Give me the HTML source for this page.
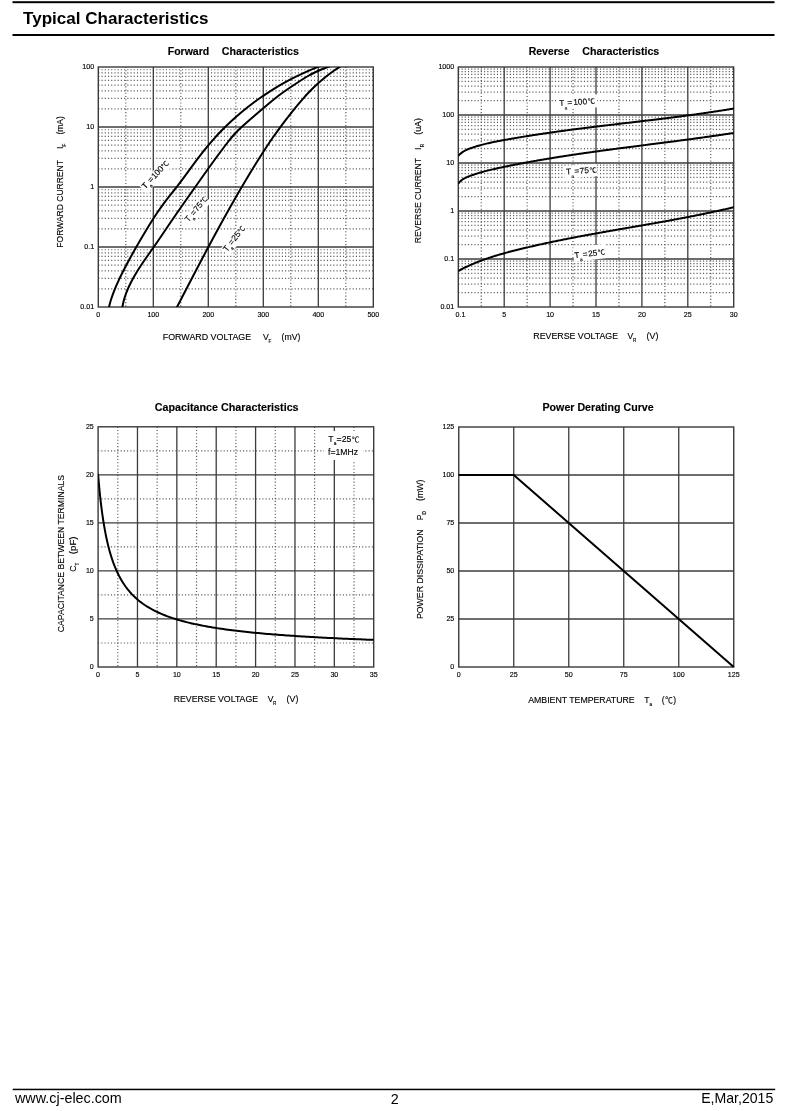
<!DOCTYPE html>
<html><head><meta charset="utf-8"><title>Typical Characteristics</title>
<style>html,body{margin:0;padding:0;background:#fff;}body{width:800px;height:1111px;overflow:hidden;}svg{display:block;filter:blur(0.3px);}</style>
</head><body>
<svg width="800" height="1111" viewBox="0 0 800 1111" font-family="'Liberation Sans', 'Noto Sans CJK SC', sans-serif" fill="#000">
<defs>
<clipPath id="c1"><rect x="98.3" y="67" width="275" height="240"/></clipPath>
<clipPath id="c2"><rect x="458.3" y="67" width="275.4" height="240"/></clipPath>
<clipPath id="c3"><rect x="98.1" y="426.8" width="275.6" height="240.2"/></clipPath>
<style>.ch text{stroke:#000;stroke-width:0.14px;}</style>
</defs>
<rect width="800" height="1111" fill="#fff"/>
<rect x="12.5" y="1.2" width="762" height="2" fill="#000"/>
<rect x="12.5" y="34" width="762" height="2" fill="#000"/>
<text x="23.00" y="24.10" font-size="17" font-weight="bold" textLength="185.40" lengthAdjust="spacingAndGlyphs">Typical Characteristics</text>
<rect x="12.7" y="1088.7" width="762.5" height="1.5" fill="#000"/>
<text x="15.00" y="1103.00" font-size="14.35">www.cj-elec.com</text>
<text x="394.70" y="1103.50" font-size="14.3" text-anchor="middle">2</text>
<text x="773.30" y="1103.00" font-size="14.1" text-anchor="end">E,Mar,2015</text>
<g class="ch">
<line x1="125.80" y1="67.00" x2="125.80" y2="307.00" stroke="#5a5a5a" stroke-width="1.2" stroke-dasharray="1.1 2.12"/>
<line x1="180.80" y1="67.00" x2="180.80" y2="307.00" stroke="#5a5a5a" stroke-width="1.2" stroke-dasharray="1.1 2.12"/>
<line x1="235.80" y1="67.00" x2="235.80" y2="307.00" stroke="#5a5a5a" stroke-width="1.2" stroke-dasharray="1.1 2.12"/>
<line x1="290.80" y1="67.00" x2="290.80" y2="307.00" stroke="#5a5a5a" stroke-width="1.2" stroke-dasharray="1.1 2.12"/>
<line x1="345.80" y1="67.00" x2="345.80" y2="307.00" stroke="#5a5a5a" stroke-width="1.2" stroke-dasharray="1.1 2.12"/>
<line x1="98.30" y1="288.94" x2="373.30" y2="288.94" stroke="#5a5a5a" stroke-width="1.2" stroke-dasharray="1.1 2.12"/>
<line x1="98.30" y1="278.37" x2="373.30" y2="278.37" stroke="#5a5a5a" stroke-width="1.2" stroke-dasharray="1.1 2.12"/>
<line x1="98.30" y1="270.88" x2="373.30" y2="270.88" stroke="#5a5a5a" stroke-width="1.2" stroke-dasharray="1.1 2.12"/>
<line x1="98.30" y1="265.06" x2="373.30" y2="265.06" stroke="#5a5a5a" stroke-width="1.2" stroke-dasharray="1.1 2.12"/>
<line x1="98.30" y1="260.31" x2="373.30" y2="260.31" stroke="#5a5a5a" stroke-width="1.2" stroke-dasharray="1.1 2.12"/>
<line x1="98.30" y1="256.29" x2="373.30" y2="256.29" stroke="#5a5a5a" stroke-width="1.2" stroke-dasharray="1.1 2.12"/>
<line x1="98.30" y1="252.81" x2="373.30" y2="252.81" stroke="#5a5a5a" stroke-width="1.2" stroke-dasharray="1.1 2.12"/>
<line x1="98.30" y1="249.75" x2="373.30" y2="249.75" stroke="#5a5a5a" stroke-width="1.2" stroke-dasharray="1.1 2.12"/>
<line x1="98.30" y1="228.94" x2="373.30" y2="228.94" stroke="#5a5a5a" stroke-width="1.2" stroke-dasharray="1.1 2.12"/>
<line x1="98.30" y1="218.37" x2="373.30" y2="218.37" stroke="#5a5a5a" stroke-width="1.2" stroke-dasharray="1.1 2.12"/>
<line x1="98.30" y1="210.88" x2="373.30" y2="210.88" stroke="#5a5a5a" stroke-width="1.2" stroke-dasharray="1.1 2.12"/>
<line x1="98.30" y1="205.06" x2="373.30" y2="205.06" stroke="#5a5a5a" stroke-width="1.2" stroke-dasharray="1.1 2.12"/>
<line x1="98.30" y1="200.31" x2="373.30" y2="200.31" stroke="#5a5a5a" stroke-width="1.2" stroke-dasharray="1.1 2.12"/>
<line x1="98.30" y1="196.29" x2="373.30" y2="196.29" stroke="#5a5a5a" stroke-width="1.2" stroke-dasharray="1.1 2.12"/>
<line x1="98.30" y1="192.81" x2="373.30" y2="192.81" stroke="#5a5a5a" stroke-width="1.2" stroke-dasharray="1.1 2.12"/>
<line x1="98.30" y1="189.75" x2="373.30" y2="189.75" stroke="#5a5a5a" stroke-width="1.2" stroke-dasharray="1.1 2.12"/>
<line x1="98.30" y1="168.94" x2="373.30" y2="168.94" stroke="#5a5a5a" stroke-width="1.2" stroke-dasharray="1.1 2.12"/>
<line x1="98.30" y1="158.37" x2="373.30" y2="158.37" stroke="#5a5a5a" stroke-width="1.2" stroke-dasharray="1.1 2.12"/>
<line x1="98.30" y1="150.88" x2="373.30" y2="150.88" stroke="#5a5a5a" stroke-width="1.2" stroke-dasharray="1.1 2.12"/>
<line x1="98.30" y1="145.06" x2="373.30" y2="145.06" stroke="#5a5a5a" stroke-width="1.2" stroke-dasharray="1.1 2.12"/>
<line x1="98.30" y1="140.31" x2="373.30" y2="140.31" stroke="#5a5a5a" stroke-width="1.2" stroke-dasharray="1.1 2.12"/>
<line x1="98.30" y1="136.29" x2="373.30" y2="136.29" stroke="#5a5a5a" stroke-width="1.2" stroke-dasharray="1.1 2.12"/>
<line x1="98.30" y1="132.81" x2="373.30" y2="132.81" stroke="#5a5a5a" stroke-width="1.2" stroke-dasharray="1.1 2.12"/>
<line x1="98.30" y1="129.75" x2="373.30" y2="129.75" stroke="#5a5a5a" stroke-width="1.2" stroke-dasharray="1.1 2.12"/>
<line x1="98.30" y1="108.94" x2="373.30" y2="108.94" stroke="#5a5a5a" stroke-width="1.2" stroke-dasharray="1.1 2.12"/>
<line x1="98.30" y1="98.37" x2="373.30" y2="98.37" stroke="#5a5a5a" stroke-width="1.2" stroke-dasharray="1.1 2.12"/>
<line x1="98.30" y1="90.88" x2="373.30" y2="90.88" stroke="#5a5a5a" stroke-width="1.2" stroke-dasharray="1.1 2.12"/>
<line x1="98.30" y1="85.06" x2="373.30" y2="85.06" stroke="#5a5a5a" stroke-width="1.2" stroke-dasharray="1.1 2.12"/>
<line x1="98.30" y1="80.31" x2="373.30" y2="80.31" stroke="#5a5a5a" stroke-width="1.2" stroke-dasharray="1.1 2.12"/>
<line x1="98.30" y1="76.29" x2="373.30" y2="76.29" stroke="#5a5a5a" stroke-width="1.2" stroke-dasharray="1.1 2.12"/>
<line x1="98.30" y1="72.81" x2="373.30" y2="72.81" stroke="#5a5a5a" stroke-width="1.2" stroke-dasharray="1.1 2.12"/>
<line x1="98.30" y1="69.75" x2="373.30" y2="69.75" stroke="#5a5a5a" stroke-width="1.2" stroke-dasharray="1.1 2.12"/>
<line x1="153.30" y1="67.00" x2="153.30" y2="307.00" stroke="#3c3c3c" stroke-width="1.3"/>
<line x1="208.30" y1="67.00" x2="208.30" y2="307.00" stroke="#3c3c3c" stroke-width="1.3"/>
<line x1="263.30" y1="67.00" x2="263.30" y2="307.00" stroke="#3c3c3c" stroke-width="1.3"/>
<line x1="318.30" y1="67.00" x2="318.30" y2="307.00" stroke="#3c3c3c" stroke-width="1.3"/>
<line x1="98.30" y1="247.00" x2="373.30" y2="247.00" stroke="#3c3c3c" stroke-width="1.3"/>
<line x1="98.30" y1="187.00" x2="373.30" y2="187.00" stroke="#3c3c3c" stroke-width="1.3"/>
<line x1="98.30" y1="127.00" x2="373.30" y2="127.00" stroke="#3c3c3c" stroke-width="1.3"/>
<rect x="98.3" y="67.0" width="275.0" height="240.0" fill="none" stroke="#3a3a3a" stroke-width="1.4"/>
<rect x="143.80" y="182.40" width="36.50" height="11.00" fill="#fff" transform="rotate(-47 145.30 189.40)"/>
<rect x="187.10" y="215.60" width="32.00" height="11.00" fill="#fff" transform="rotate(-50 188.60 222.60)"/>
<rect x="225.40" y="245.20" width="32.00" height="11.00" fill="#fff" transform="rotate(-52 226.90 252.20)"/>
<path d="M320.42,65.80 L316.71,67.30 L313.10,68.80 L309.58,70.30 L306.16,71.80 L302.84,73.30 L299.62,74.80 L296.49,76.30 L293.46,77.80 L290.53,79.30 L287.69,80.80 L284.95,82.30 L282.28,83.80 L279.70,85.30 L277.19,86.80 L274.74,88.30 L272.34,89.80 L270.00,91.30 L267.71,92.80 L265.45,94.30 L263.24,95.80 L261.07,97.30 L258.94,98.80 L256.85,100.30 L254.80,101.80 L252.78,103.30 L250.81,104.80 L248.86,106.30 L246.96,107.80 L245.08,109.30 L243.24,110.80 L241.43,112.30 L239.65,113.80 L237.91,115.30 L236.19,116.80 L234.50,118.30 L232.83,119.80 L231.20,121.30 L229.59,122.80 L228.01,124.30 L226.45,125.80 L224.92,127.30 L223.41,128.80 L221.92,130.30 L220.46,131.80 L219.02,133.30 L217.61,134.80 L216.21,136.30 L214.84,137.80 L213.49,139.30 L212.16,140.80 L210.84,142.30 L209.55,143.80 L208.28,145.30 L207.02,146.80 L205.78,148.30 L204.56,149.80 L203.36,151.30 L202.17,152.80 L201.00,154.30 L199.84,155.80 L198.69,157.30 L197.56,158.80 L196.43,160.30 L195.31,161.80 L194.20,163.30 L193.09,164.80 L191.99,166.30 L190.89,167.80 L189.80,169.30 L188.70,170.80 L187.61,172.30 L186.51,173.80 L185.41,175.30 L184.31,176.80 L183.20,178.30 L182.08,179.80 L180.96,181.30 L179.83,182.80 L178.68,184.30 L177.53,185.80 L176.36,187.30 L175.18,188.80 L173.99,190.30 L172.79,191.80 L171.59,193.30 L170.39,194.80 L169.21,196.30 L168.03,197.80 L166.86,199.30 L165.71,200.80 L164.59,202.30 L163.48,203.80 L162.39,205.30 L161.32,206.80 L160.26,208.30 L159.22,209.80 L158.20,211.30 L157.19,212.80 L156.19,214.30 L155.20,215.80 L154.23,217.30 L153.27,218.80 L152.32,220.30 L151.37,221.80 L150.44,223.30 L149.51,224.80 L148.59,226.30 L147.68,227.80 L146.76,229.30 L145.86,230.80 L144.95,232.30 L144.06,233.80 L143.16,235.30 L142.27,236.80 L141.39,238.30 L140.51,239.80 L139.63,241.30 L138.76,242.80 L137.89,244.30 L137.03,245.80 L136.17,247.30 L135.31,248.80 L134.47,250.30 L133.62,251.80 L132.78,253.30 L131.95,254.80 L131.12,256.30 L130.29,257.80 L129.47,259.30 L128.66,260.80 L127.85,262.30 L127.05,263.80 L126.25,265.30 L125.46,266.80 L124.67,268.30 L123.89,269.80 L123.12,271.30 L122.36,272.80 L121.60,274.30 L120.86,275.80 L120.13,277.30 L119.40,278.80 L118.70,280.30 L118.00,281.80 L117.32,283.30 L116.65,284.80 L116.00,286.30 L115.37,287.80 L114.75,289.30 L114.15,290.80 L113.58,292.30 L113.02,293.80 L112.48,295.30 L111.96,296.80 L111.46,298.30 L110.99,299.80 L110.54,301.30 L110.11,302.80 L109.71,304.30 L109.34,305.80 L109.06,307.00" fill="none" stroke="#000" stroke-width="2.0" stroke-linejoin="round" stroke-linecap="round" clip-path="url(#c1)"/>
<path d="M330.76,66.00 L326.50,67.50 L322.59,69.00 L319.01,70.50 L315.71,72.00 L312.66,73.50 L309.82,75.00 L307.17,76.50 L304.66,78.00 L302.27,79.50 L299.95,81.00 L297.68,82.50 L295.41,84.00 L293.15,85.50 L290.89,87.00 L288.65,88.50 L286.45,90.00 L284.29,91.50 L282.18,93.00 L280.13,94.50 L278.15,96.00 L276.23,97.50 L274.36,99.00 L272.52,100.50 L270.71,102.00 L268.90,103.50 L267.11,105.00 L265.32,106.50 L263.55,108.00 L261.78,109.50 L260.01,111.00 L258.25,112.50 L256.50,114.00 L254.76,115.50 L253.02,117.00 L251.28,118.50 L249.55,120.00 L247.83,121.50 L246.12,123.00 L244.43,124.50 L242.77,126.00 L241.14,127.50 L239.55,129.00 L238.01,130.50 L236.52,132.00 L235.10,133.50 L233.73,135.00 L232.42,136.50 L231.16,138.00 L229.93,139.50 L228.74,141.00 L227.57,142.50 L226.41,144.00 L225.27,145.50 L224.13,147.00 L223.00,148.50 L221.87,150.00 L220.75,151.50 L219.63,153.00 L218.52,154.50 L217.42,156.00 L216.31,157.50 L215.22,159.00 L214.13,160.50 L213.04,162.00 L211.95,163.50 L210.87,165.00 L209.79,166.50 L208.72,168.00 L207.64,169.50 L206.57,171.00 L205.50,172.50 L204.44,174.00 L203.37,175.50 L202.31,177.00 L201.25,178.50 L200.19,180.00 L199.13,181.50 L198.07,183.00 L197.01,184.50 L195.95,186.00 L194.89,187.50 L193.83,189.00 L192.77,190.50 L191.71,192.00 L190.65,193.50 L189.59,195.00 L188.53,196.50 L187.48,198.00 L186.42,199.50 L185.36,201.00 L184.31,202.50 L183.25,204.00 L182.20,205.50 L181.15,207.00 L180.11,208.50 L179.06,210.00 L178.02,211.50 L176.98,213.00 L175.94,214.50 L174.91,216.00 L173.88,217.50 L172.85,219.00 L171.83,220.50 L170.81,222.00 L169.79,223.50 L168.77,225.00 L167.76,226.50 L166.74,228.00 L165.73,229.50 L164.71,231.00 L163.70,232.50 L162.68,234.00 L161.67,235.50 L160.65,237.00 L159.63,238.50 L158.60,240.00 L157.57,241.50 L156.54,243.00 L155.50,244.50 L154.46,246.00 L153.42,247.50 L152.36,249.00 L151.31,250.50 L150.25,252.00 L149.19,253.50 L148.14,255.00 L147.09,256.50 L146.04,258.00 L145.00,259.50 L143.96,261.00 L142.94,262.50 L141.93,264.00 L140.94,265.50 L139.96,267.00 L138.99,268.50 L138.04,270.00 L137.11,271.50 L136.20,273.00 L135.31,274.50 L134.43,276.00 L133.58,277.50 L132.75,279.00 L131.95,280.50 L131.16,282.00 L130.41,283.50 L129.67,285.00 L128.97,286.50 L128.29,288.00 L127.64,289.50 L127.02,291.00 L126.43,292.50 L125.86,294.00 L125.33,295.50 L124.84,297.00 L124.37,298.50 L123.94,300.00 L123.55,301.50 L123.19,303.00 L122.87,304.50 L122.58,306.00 L122.42,307.00" fill="none" stroke="#000" stroke-width="2.0" stroke-linejoin="round" stroke-linecap="round" clip-path="url(#c1)"/>
<path d="M341.17,65.80 L338.89,67.30 L336.68,68.80 L334.54,70.30 L332.45,71.80 L330.42,73.30 L328.44,74.80 L326.52,76.30 L324.65,77.80 L322.83,79.30 L321.06,80.80 L319.34,82.30 L317.66,83.80 L316.02,85.30 L314.43,86.80 L312.87,88.30 L311.35,89.80 L309.87,91.30 L308.41,92.80 L306.99,94.30 L305.60,95.80 L304.24,97.30 L302.90,98.80 L301.58,100.30 L300.29,101.80 L299.01,103.30 L297.76,104.80 L296.52,106.30 L295.29,107.80 L294.08,109.30 L292.87,110.80 L291.68,112.30 L290.49,113.80 L289.31,115.30 L288.13,116.80 L286.97,118.30 L285.81,119.80 L284.67,121.30 L283.53,122.80 L282.40,124.30 L281.29,125.80 L280.18,127.30 L279.08,128.80 L277.99,130.30 L276.92,131.80 L275.85,133.30 L274.79,134.80 L273.74,136.30 L272.70,137.80 L271.67,139.30 L270.65,140.80 L269.63,142.30 L268.62,143.80 L267.62,145.30 L266.63,146.80 L265.65,148.30 L264.67,149.80 L263.69,151.30 L262.73,152.80 L261.76,154.30 L260.81,155.80 L259.85,157.30 L258.91,158.80 L257.96,160.30 L257.02,161.80 L256.09,163.30 L255.16,164.80 L254.23,166.30 L253.31,167.80 L252.39,169.30 L251.47,170.80 L250.56,172.30 L249.65,173.80 L248.75,175.30 L247.84,176.80 L246.95,178.30 L246.05,179.80 L245.16,181.30 L244.27,182.80 L243.38,184.30 L242.50,185.80 L241.62,187.30 L240.74,188.80 L239.86,190.30 L238.99,191.80 L238.12,193.30 L237.25,194.80 L236.39,196.30 L235.53,197.80 L234.67,199.30 L233.81,200.80 L232.95,202.30 L232.10,203.80 L231.25,205.30 L230.40,206.80 L229.55,208.30 L228.71,209.80 L227.87,211.30 L227.03,212.80 L226.19,214.30 L225.36,215.80 L224.52,217.30 L223.69,218.80 L222.86,220.30 L222.04,221.80 L221.21,223.30 L220.39,224.80 L219.57,226.30 L218.75,227.80 L217.93,229.30 L217.11,230.80 L216.30,232.30 L215.48,233.80 L214.67,235.30 L213.86,236.80 L213.05,238.30 L212.25,239.80 L211.44,241.30 L210.64,242.80 L209.83,244.30 L209.03,245.80 L208.23,247.30 L207.43,248.80 L206.64,250.30 L205.84,251.80 L205.04,253.30 L204.25,254.80 L203.46,256.30 L202.66,257.80 L201.87,259.30 L201.08,260.80 L200.29,262.30 L199.51,263.80 L198.72,265.30 L197.93,266.80 L197.15,268.30 L196.36,269.80 L195.58,271.30 L194.79,272.80 L194.01,274.30 L193.23,275.80 L192.45,277.30 L191.67,278.80 L190.89,280.30 L190.11,281.80 L189.33,283.30 L188.55,284.80 L187.77,286.30 L186.99,287.80 L186.21,289.30 L185.43,290.80 L184.66,292.30 L183.88,293.80 L183.10,295.30 L182.32,296.80 L181.55,298.30 L180.77,299.80 L179.99,301.30 L179.22,302.80 L178.44,304.30 L177.66,305.80 L177.04,307.00" fill="none" stroke="#000" stroke-width="2.0" stroke-linejoin="round" stroke-linecap="round" clip-path="url(#c1)"/>
<text x="145.30" y="189.40" font-size="8.4" transform="rotate(-47 145.30 189.40)">T<tspan font-size="4.62" dy="3.2" dx="0.0">a</tspan><tspan dy="-3.2" dx="0.6">=</tspan><tspan dx="0.5">100</tspan><tspan font-size="7.20" dx="0.3">℃</tspan></text>
<text x="188.60" y="222.60" font-size="8.4" transform="rotate(-50 188.60 222.60)">T<tspan font-size="4.62" dy="3.2" dx="0.0">a</tspan><tspan dy="-3.2" dx="0.6">=</tspan><tspan dx="0.4">75</tspan><tspan font-size="7.20" dx="0.3">℃</tspan></text>
<text x="226.90" y="252.20" font-size="8.4" transform="rotate(-52 226.90 252.20)">T<tspan font-size="4.62" dy="3.2" dx="0.0">a</tspan><tspan dy="-3.2" dx="0.6">=</tspan><tspan dx="0.4">25</tspan><tspan font-size="7.20" dx="0.3">℃</tspan></text>
<text x="94.10" y="309.30" font-size="7.1" text-anchor="end">0.01</text>
<text x="94.10" y="249.30" font-size="7.1" text-anchor="end">0.1</text>
<text x="94.10" y="189.30" font-size="7.1" text-anchor="end">1</text>
<text x="94.10" y="129.30" font-size="7.1" text-anchor="end">10</text>
<text x="94.10" y="69.30" font-size="7.1" text-anchor="end">100</text>
<text x="98.30" y="316.90" font-size="7.1" text-anchor="middle">0</text>
<text x="153.30" y="316.90" font-size="7.1" text-anchor="middle">100</text>
<text x="208.30" y="316.90" font-size="7.1" text-anchor="middle">200</text>
<text x="263.30" y="316.90" font-size="7.1" text-anchor="middle">300</text>
<text x="318.30" y="316.90" font-size="7.1" text-anchor="middle">400</text>
<text x="373.30" y="316.90" font-size="7.1" text-anchor="middle">500</text>
<text x="167.70" y="55.00" font-size="10.6" font-weight="bold" textLength="41.60" lengthAdjust="spacingAndGlyphs">Forward</text>
<text x="221.70" y="55.00" font-size="10.6" font-weight="bold" textLength="77.35" lengthAdjust="spacingAndGlyphs">Characteristics</text>
<text x="162.80" y="339.80" font-size="8.6" textLength="88.40" lengthAdjust="spacingAndGlyphs">FORWARD VOLTAGE</text>
<text x="263.00" y="339.80" font-size="8.6">V</text>
<text x="268.60" y="342.90" font-size="4.6">F</text>
<text x="281.60" y="339.80" font-size="8.6" textLength="18.70" lengthAdjust="spacingAndGlyphs">(mV)</text>
<g transform="translate(63.3 0) rotate(-90)">
<text x="-247.70" y="0.00" font-size="8.6" textLength="87.60" lengthAdjust="spacingAndGlyphs">FORWARD CURRENT</text>
<text x="-149.10" y="0.00" font-size="8.6">I</text>
<text x="-146.40" y="2.80" font-size="4.6">F</text>
<text x="-134.50" y="0.00" font-size="8.6" textLength="18.30" lengthAdjust="spacingAndGlyphs">(mA)</text>
</g>
<line x1="481.25" y1="67.00" x2="481.25" y2="307.00" stroke="#5a5a5a" stroke-width="1.2" stroke-dasharray="1.1 2.12"/>
<line x1="527.15" y1="67.00" x2="527.15" y2="307.00" stroke="#5a5a5a" stroke-width="1.2" stroke-dasharray="1.1 2.12"/>
<line x1="573.05" y1="67.00" x2="573.05" y2="307.00" stroke="#5a5a5a" stroke-width="1.2" stroke-dasharray="1.1 2.12"/>
<line x1="618.95" y1="67.00" x2="618.95" y2="307.00" stroke="#5a5a5a" stroke-width="1.2" stroke-dasharray="1.1 2.12"/>
<line x1="664.85" y1="67.00" x2="664.85" y2="307.00" stroke="#5a5a5a" stroke-width="1.2" stroke-dasharray="1.1 2.12"/>
<line x1="710.75" y1="67.00" x2="710.75" y2="307.00" stroke="#5a5a5a" stroke-width="1.2" stroke-dasharray="1.1 2.12"/>
<line x1="458.30" y1="292.55" x2="733.70" y2="292.55" stroke="#5a5a5a" stroke-width="1.2" stroke-dasharray="1.1 2.12"/>
<line x1="458.30" y1="284.10" x2="733.70" y2="284.10" stroke="#5a5a5a" stroke-width="1.2" stroke-dasharray="1.1 2.12"/>
<line x1="458.30" y1="278.10" x2="733.70" y2="278.10" stroke="#5a5a5a" stroke-width="1.2" stroke-dasharray="1.1 2.12"/>
<line x1="458.30" y1="273.45" x2="733.70" y2="273.45" stroke="#5a5a5a" stroke-width="1.2" stroke-dasharray="1.1 2.12"/>
<line x1="458.30" y1="269.65" x2="733.70" y2="269.65" stroke="#5a5a5a" stroke-width="1.2" stroke-dasharray="1.1 2.12"/>
<line x1="458.30" y1="266.44" x2="733.70" y2="266.44" stroke="#5a5a5a" stroke-width="1.2" stroke-dasharray="1.1 2.12"/>
<line x1="458.30" y1="263.65" x2="733.70" y2="263.65" stroke="#5a5a5a" stroke-width="1.2" stroke-dasharray="1.1 2.12"/>
<line x1="458.30" y1="261.20" x2="733.70" y2="261.20" stroke="#5a5a5a" stroke-width="1.2" stroke-dasharray="1.1 2.12"/>
<line x1="458.30" y1="244.55" x2="733.70" y2="244.55" stroke="#5a5a5a" stroke-width="1.2" stroke-dasharray="1.1 2.12"/>
<line x1="458.30" y1="236.10" x2="733.70" y2="236.10" stroke="#5a5a5a" stroke-width="1.2" stroke-dasharray="1.1 2.12"/>
<line x1="458.30" y1="230.10" x2="733.70" y2="230.10" stroke="#5a5a5a" stroke-width="1.2" stroke-dasharray="1.1 2.12"/>
<line x1="458.30" y1="225.45" x2="733.70" y2="225.45" stroke="#5a5a5a" stroke-width="1.2" stroke-dasharray="1.1 2.12"/>
<line x1="458.30" y1="221.65" x2="733.70" y2="221.65" stroke="#5a5a5a" stroke-width="1.2" stroke-dasharray="1.1 2.12"/>
<line x1="458.30" y1="218.44" x2="733.70" y2="218.44" stroke="#5a5a5a" stroke-width="1.2" stroke-dasharray="1.1 2.12"/>
<line x1="458.30" y1="215.65" x2="733.70" y2="215.65" stroke="#5a5a5a" stroke-width="1.2" stroke-dasharray="1.1 2.12"/>
<line x1="458.30" y1="213.20" x2="733.70" y2="213.20" stroke="#5a5a5a" stroke-width="1.2" stroke-dasharray="1.1 2.12"/>
<line x1="458.30" y1="196.55" x2="733.70" y2="196.55" stroke="#5a5a5a" stroke-width="1.2" stroke-dasharray="1.1 2.12"/>
<line x1="458.30" y1="188.10" x2="733.70" y2="188.10" stroke="#5a5a5a" stroke-width="1.2" stroke-dasharray="1.1 2.12"/>
<line x1="458.30" y1="182.10" x2="733.70" y2="182.10" stroke="#5a5a5a" stroke-width="1.2" stroke-dasharray="1.1 2.12"/>
<line x1="458.30" y1="177.45" x2="733.70" y2="177.45" stroke="#5a5a5a" stroke-width="1.2" stroke-dasharray="1.1 2.12"/>
<line x1="458.30" y1="173.65" x2="733.70" y2="173.65" stroke="#5a5a5a" stroke-width="1.2" stroke-dasharray="1.1 2.12"/>
<line x1="458.30" y1="170.44" x2="733.70" y2="170.44" stroke="#5a5a5a" stroke-width="1.2" stroke-dasharray="1.1 2.12"/>
<line x1="458.30" y1="167.65" x2="733.70" y2="167.65" stroke="#5a5a5a" stroke-width="1.2" stroke-dasharray="1.1 2.12"/>
<line x1="458.30" y1="165.20" x2="733.70" y2="165.20" stroke="#5a5a5a" stroke-width="1.2" stroke-dasharray="1.1 2.12"/>
<line x1="458.30" y1="148.55" x2="733.70" y2="148.55" stroke="#5a5a5a" stroke-width="1.2" stroke-dasharray="1.1 2.12"/>
<line x1="458.30" y1="140.10" x2="733.70" y2="140.10" stroke="#5a5a5a" stroke-width="1.2" stroke-dasharray="1.1 2.12"/>
<line x1="458.30" y1="134.10" x2="733.70" y2="134.10" stroke="#5a5a5a" stroke-width="1.2" stroke-dasharray="1.1 2.12"/>
<line x1="458.30" y1="129.45" x2="733.70" y2="129.45" stroke="#5a5a5a" stroke-width="1.2" stroke-dasharray="1.1 2.12"/>
<line x1="458.30" y1="125.65" x2="733.70" y2="125.65" stroke="#5a5a5a" stroke-width="1.2" stroke-dasharray="1.1 2.12"/>
<line x1="458.30" y1="122.44" x2="733.70" y2="122.44" stroke="#5a5a5a" stroke-width="1.2" stroke-dasharray="1.1 2.12"/>
<line x1="458.30" y1="119.65" x2="733.70" y2="119.65" stroke="#5a5a5a" stroke-width="1.2" stroke-dasharray="1.1 2.12"/>
<line x1="458.30" y1="117.20" x2="733.70" y2="117.20" stroke="#5a5a5a" stroke-width="1.2" stroke-dasharray="1.1 2.12"/>
<line x1="458.30" y1="100.55" x2="733.70" y2="100.55" stroke="#5a5a5a" stroke-width="1.2" stroke-dasharray="1.1 2.12"/>
<line x1="458.30" y1="92.10" x2="733.70" y2="92.10" stroke="#5a5a5a" stroke-width="1.2" stroke-dasharray="1.1 2.12"/>
<line x1="458.30" y1="86.10" x2="733.70" y2="86.10" stroke="#5a5a5a" stroke-width="1.2" stroke-dasharray="1.1 2.12"/>
<line x1="458.30" y1="81.45" x2="733.70" y2="81.45" stroke="#5a5a5a" stroke-width="1.2" stroke-dasharray="1.1 2.12"/>
<line x1="458.30" y1="77.65" x2="733.70" y2="77.65" stroke="#5a5a5a" stroke-width="1.2" stroke-dasharray="1.1 2.12"/>
<line x1="458.30" y1="74.44" x2="733.70" y2="74.44" stroke="#5a5a5a" stroke-width="1.2" stroke-dasharray="1.1 2.12"/>
<line x1="458.30" y1="71.65" x2="733.70" y2="71.65" stroke="#5a5a5a" stroke-width="1.2" stroke-dasharray="1.1 2.12"/>
<line x1="458.30" y1="69.20" x2="733.70" y2="69.20" stroke="#5a5a5a" stroke-width="1.2" stroke-dasharray="1.1 2.12"/>
<line x1="504.20" y1="67.00" x2="504.20" y2="307.00" stroke="#3c3c3c" stroke-width="1.3"/>
<line x1="550.10" y1="67.00" x2="550.10" y2="307.00" stroke="#3c3c3c" stroke-width="1.3"/>
<line x1="596.00" y1="67.00" x2="596.00" y2="307.00" stroke="#3c3c3c" stroke-width="1.3"/>
<line x1="641.90" y1="67.00" x2="641.90" y2="307.00" stroke="#3c3c3c" stroke-width="1.3"/>
<line x1="687.80" y1="67.00" x2="687.80" y2="307.00" stroke="#3c3c3c" stroke-width="1.3"/>
<line x1="458.30" y1="259.00" x2="733.70" y2="259.00" stroke="#3c3c3c" stroke-width="1.3"/>
<line x1="458.30" y1="211.00" x2="733.70" y2="211.00" stroke="#3c3c3c" stroke-width="1.3"/>
<line x1="458.30" y1="163.00" x2="733.70" y2="163.00" stroke="#3c3c3c" stroke-width="1.3"/>
<line x1="458.30" y1="115.00" x2="733.70" y2="115.00" stroke="#3c3c3c" stroke-width="1.3"/>
<rect x="458.3" y="67.0" width="275.40000000000003" height="240.0" fill="none" stroke="#3a3a3a" stroke-width="1.4"/>
<rect x="557.50" y="97.00" width="40.00" height="13.00" fill="#fff" transform="rotate(-4 559.40 106.10)"/>
<rect x="564.50" y="165.80" width="33.00" height="12.50" fill="#fff" transform="rotate(-4 566.20 174.60)"/>
<rect x="573.80" y="247.50" width="33.00" height="14.50" fill="#fff" transform="rotate(-7 574.80 258.20)"/>
<path d="M458.50,155.53 L459.50,154.56 L460.50,153.68 L461.50,152.88 L462.50,152.16 L463.50,151.51 L464.50,150.92 L465.50,150.38 L466.50,149.90 L467.50,149.45 L468.50,149.04 L469.50,148.65 L470.50,148.29 L471.50,147.94 L472.50,147.60 L473.50,147.26 L474.50,146.94 L475.50,146.63 L476.50,146.32 L477.50,146.02 L478.50,145.73 L479.50,145.44 L480.50,145.17 L481.50,144.90 L482.50,144.63 L483.50,144.37 L484.50,144.12 L485.50,143.88 L486.50,143.64 L487.50,143.40 L488.50,143.17 L489.50,142.95 L490.50,142.73 L491.50,142.51 L492.50,142.30 L493.50,142.09 L494.50,141.89 L495.50,141.69 L496.50,141.49 L497.50,141.29 L498.50,141.10 L499.50,140.91 L500.50,140.72 L501.50,140.54 L502.50,140.35 L503.50,140.17 L504.50,139.98 L505.50,139.80 L506.50,139.62 L507.50,139.44 L508.50,139.26 L509.50,139.09 L510.50,138.91 L511.50,138.73 L512.50,138.56 L513.50,138.39 L514.50,138.21 L515.50,138.04 L516.50,137.87 L517.50,137.70 L518.50,137.53 L519.50,137.37 L520.50,137.20 L521.50,137.03 L522.50,136.87 L523.50,136.71 L524.50,136.54 L525.50,136.38 L526.50,136.22 L527.50,136.06 L528.50,135.90 L529.50,135.74 L530.50,135.58 L531.50,135.42 L532.50,135.27 L533.50,135.11 L534.50,134.96 L535.50,134.80 L536.50,134.65 L537.50,134.50 L538.50,134.35 L539.50,134.20 L540.50,134.05 L541.50,133.90 L542.50,133.75 L543.50,133.60 L544.50,133.45 L545.50,133.31 L546.50,133.16 L547.50,133.02 L548.50,132.87 L549.50,132.73 L550.50,132.58 L551.50,132.44 L552.50,132.30 L553.50,132.16 L554.50,132.02 L555.50,131.88 L556.50,131.74 L557.50,131.60 L558.50,131.46 L559.50,131.33 L560.50,131.19 L561.50,131.05 L562.50,130.92 L563.50,130.78 L564.50,130.65 L565.50,130.51 L566.50,130.38 L567.50,130.25 L568.50,130.11 L569.50,129.98 L570.50,129.85 L571.50,129.72 L572.50,129.59 L573.50,129.46 L574.50,129.33 L575.50,129.20 L576.50,129.07 L577.50,128.94 L578.50,128.81 L579.50,128.69 L580.50,128.56 L581.50,128.43 L582.50,128.31 L583.50,128.18 L584.50,128.05 L585.50,127.93 L586.50,127.80 L587.50,127.68 L588.50,127.56 L589.50,127.43 L590.50,127.31 L591.50,127.18 L592.50,127.06 L593.50,126.94 L594.50,126.82 L595.50,126.69 L596.50,126.57 L597.50,126.45 L598.50,126.33 L599.50,126.21 L600.50,126.09 L601.50,125.97 L602.50,125.85 L603.50,125.73 L604.50,125.61 L605.50,125.49 L606.50,125.37 L607.50,125.25 L608.50,125.13 L609.50,125.01 L610.50,124.89 L611.50,124.77 L612.50,124.65 L613.50,124.53 L614.50,124.41 L615.50,124.30 L616.50,124.18 L617.50,124.06 L618.50,123.94 L619.50,123.82 L620.50,123.70 L621.50,123.59 L622.50,123.47 L623.50,123.35 L624.50,123.23 L625.50,123.11 L626.50,123.00 L627.50,122.88 L628.50,122.76 L629.50,122.64 L630.50,122.52 L631.50,122.41 L632.50,122.29 L633.50,122.17 L634.50,122.05 L635.50,121.93 L636.50,121.81 L637.50,121.70 L638.50,121.58 L639.50,121.46 L640.50,121.34 L641.50,121.22 L642.50,121.10 L643.50,120.98 L644.50,120.86 L645.50,120.74 L646.50,120.62 L647.50,120.50 L648.50,120.38 L649.50,120.26 L650.50,120.14 L651.50,120.02 L652.50,119.90 L653.50,119.78 L654.50,119.66 L655.50,119.54 L656.50,119.42 L657.50,119.29 L658.50,119.17 L659.50,119.05 L660.50,118.93 L661.50,118.80 L662.50,118.68 L663.50,118.55 L664.50,118.43 L665.50,118.31 L666.50,118.18 L667.50,118.06 L668.50,117.93 L669.50,117.80 L670.50,117.68 L671.50,117.55 L672.50,117.42 L673.50,117.30 L674.50,117.17 L675.50,117.04 L676.50,116.91 L677.50,116.78 L678.50,116.65 L679.50,116.52 L680.50,116.39 L681.50,116.26 L682.50,116.13 L683.50,116.00 L684.50,115.86 L685.50,115.73 L686.50,115.60 L687.50,115.46 L688.50,115.33 L689.50,115.19 L690.50,115.06 L691.50,114.92 L692.50,114.79 L693.50,114.65 L694.50,114.51 L695.50,114.37 L696.50,114.23 L697.50,114.09 L698.50,113.95 L699.50,113.81 L700.50,113.67 L701.50,113.53 L702.50,113.38 L703.50,113.24 L704.50,113.10 L705.50,112.95 L706.50,112.80 L707.50,112.66 L708.50,112.51 L709.50,112.36 L710.50,112.21 L711.50,112.07 L712.50,111.92 L713.50,111.76 L714.50,111.61 L715.50,111.46 L716.50,111.31 L717.50,111.15 L718.50,111.00 L719.50,110.84 L720.50,110.69 L721.50,110.53 L722.50,110.37 L723.50,110.21 L724.50,110.05 L725.50,109.89 L726.50,109.73 L727.50,109.57 L728.50,109.41 L729.50,109.24 L730.50,109.08 L731.50,108.91 L732.50,108.75 L733.50,108.58 L733.70,108.54" fill="none" stroke="#000" stroke-width="2.0" stroke-linejoin="round" stroke-linecap="round" clip-path="url(#c2)"/>
<path d="M458.50,183.25 L459.50,182.12 L460.50,181.13 L461.50,180.27 L462.50,179.52 L463.50,178.86 L464.50,178.29 L465.50,177.78 L466.50,177.33 L467.50,176.91 L468.50,176.52 L469.50,176.14 L470.50,175.77 L471.50,175.41 L472.50,175.06 L473.50,174.71 L474.50,174.37 L475.50,174.04 L476.50,173.72 L477.50,173.41 L478.50,173.10 L479.50,172.80 L480.50,172.50 L481.50,172.21 L482.50,171.93 L483.50,171.65 L484.50,171.38 L485.50,171.11 L486.50,170.85 L487.50,170.59 L488.50,170.34 L489.50,170.10 L490.50,169.85 L491.50,169.61 L492.50,169.38 L493.50,169.15 L494.50,168.92 L495.50,168.69 L496.50,168.47 L497.50,168.25 L498.50,168.03 L499.50,167.82 L500.50,167.61 L501.50,167.40 L502.50,167.19 L503.50,166.98 L504.50,166.77 L505.50,166.57 L506.50,166.36 L507.50,166.16 L508.50,165.95 L509.50,165.75 L510.50,165.55 L511.50,165.35 L512.50,165.15 L513.50,164.96 L514.50,164.76 L515.50,164.56 L516.50,164.37 L517.50,164.18 L518.50,163.98 L519.50,163.79 L520.50,163.60 L521.50,163.41 L522.50,163.22 L523.50,163.04 L524.50,162.85 L525.50,162.66 L526.50,162.48 L527.50,162.30 L528.50,162.11 L529.50,161.93 L530.50,161.75 L531.50,161.57 L532.50,161.39 L533.50,161.21 L534.50,161.04 L535.50,160.86 L536.50,160.68 L537.50,160.51 L538.50,160.33 L539.50,160.16 L540.50,159.99 L541.50,159.82 L542.50,159.65 L543.50,159.48 L544.50,159.31 L545.50,159.14 L546.50,158.97 L547.50,158.80 L548.50,158.64 L549.50,158.47 L550.50,158.31 L551.50,158.14 L552.50,157.98 L553.50,157.82 L554.50,157.66 L555.50,157.50 L556.50,157.34 L557.50,157.18 L558.50,157.02 L559.50,156.86 L560.50,156.70 L561.50,156.55 L562.50,156.39 L563.50,156.24 L564.50,156.08 L565.50,155.93 L566.50,155.77 L567.50,155.62 L568.50,155.47 L569.50,155.32 L570.50,155.17 L571.50,155.01 L572.50,154.86 L573.50,154.72 L574.50,154.57 L575.50,154.42 L576.50,154.27 L577.50,154.12 L578.50,153.98 L579.50,153.83 L580.50,153.69 L581.50,153.54 L582.50,153.40 L583.50,153.25 L584.50,153.11 L585.50,152.97 L586.50,152.82 L587.50,152.68 L588.50,152.54 L589.50,152.40 L590.50,152.26 L591.50,152.12 L592.50,151.98 L593.50,151.84 L594.50,151.70 L595.50,151.56 L596.50,151.42 L597.50,151.29 L598.50,151.15 L599.50,151.01 L600.50,150.88 L601.50,150.74 L602.50,150.60 L603.50,150.47 L604.50,150.33 L605.50,150.20 L606.50,150.06 L607.50,149.93 L608.50,149.80 L609.50,149.66 L610.50,149.53 L611.50,149.40 L612.50,149.26 L613.50,149.13 L614.50,149.00 L615.50,148.87 L616.50,148.74 L617.50,148.60 L618.50,148.47 L619.50,148.34 L620.50,148.21 L621.50,148.08 L622.50,147.95 L623.50,147.82 L624.50,147.69 L625.50,147.56 L626.50,147.43 L627.50,147.30 L628.50,147.17 L629.50,147.04 L630.50,146.91 L631.50,146.79 L632.50,146.66 L633.50,146.53 L634.50,146.40 L635.50,146.27 L636.50,146.14 L637.50,146.02 L638.50,145.89 L639.50,145.76 L640.50,145.63 L641.50,145.50 L642.50,145.38 L643.50,145.25 L644.50,145.12 L645.50,144.99 L646.50,144.87 L647.50,144.74 L648.50,144.61 L649.50,144.48 L650.50,144.35 L651.50,144.23 L652.50,144.10 L653.50,143.97 L654.50,143.84 L655.50,143.72 L656.50,143.59 L657.50,143.46 L658.50,143.33 L659.50,143.20 L660.50,143.08 L661.50,142.95 L662.50,142.82 L663.50,142.69 L664.50,142.56 L665.50,142.43 L666.50,142.31 L667.50,142.18 L668.50,142.05 L669.50,141.92 L670.50,141.79 L671.50,141.66 L672.50,141.53 L673.50,141.40 L674.50,141.27 L675.50,141.14 L676.50,141.01 L677.50,140.88 L678.50,140.75 L679.50,140.62 L680.50,140.48 L681.50,140.35 L682.50,140.22 L683.50,140.09 L684.50,139.96 L685.50,139.82 L686.50,139.69 L687.50,139.56 L688.50,139.42 L689.50,139.29 L690.50,139.16 L691.50,139.02 L692.50,138.89 L693.50,138.75 L694.50,138.61 L695.50,138.48 L696.50,138.34 L697.50,138.21 L698.50,138.07 L699.50,137.93 L700.50,137.79 L701.50,137.66 L702.50,137.52 L703.50,137.38 L704.50,137.24 L705.50,137.10 L706.50,136.96 L707.50,136.82 L708.50,136.68 L709.50,136.54 L710.50,136.39 L711.50,136.25 L712.50,136.11 L713.50,135.96 L714.50,135.82 L715.50,135.68 L716.50,135.53 L717.50,135.39 L718.50,135.24 L719.50,135.09 L720.50,134.95 L721.50,134.80 L722.50,134.65 L723.50,134.50 L724.50,134.35 L725.50,134.20 L726.50,134.05 L727.50,133.90 L728.50,133.75 L729.50,133.60 L730.50,133.44 L731.50,133.29 L732.50,133.13 L733.50,132.98 L733.70,132.95" fill="none" stroke="#000" stroke-width="2.0" stroke-linejoin="round" stroke-linecap="round" clip-path="url(#c2)"/>
<path d="M458.60,270.81 L459.60,270.28 L460.60,269.75 L461.60,269.24 L462.60,268.73 L463.60,268.23 L464.60,267.73 L465.60,267.25 L466.60,266.77 L467.60,266.30 L468.60,265.84 L469.60,265.39 L470.60,264.94 L471.60,264.50 L472.60,264.07 L473.60,263.64 L474.60,263.23 L475.60,262.81 L476.60,262.41 L477.60,262.01 L478.60,261.62 L479.60,261.23 L480.60,260.85 L481.60,260.47 L482.60,260.10 L483.60,259.74 L484.60,259.38 L485.60,259.03 L486.60,258.68 L487.60,258.34 L488.60,258.00 L489.60,257.67 L490.60,257.34 L491.60,257.02 L492.60,256.70 L493.60,256.38 L494.60,256.07 L495.60,255.77 L496.60,255.46 L497.60,255.16 L498.60,254.87 L499.60,254.58 L500.60,254.29 L501.60,254.00 L502.60,253.72 L503.60,253.44 L504.60,253.17 L505.60,252.89 L506.60,252.62 L507.60,252.35 L508.60,252.09 L509.60,251.83 L510.60,251.56 L511.60,251.30 L512.60,251.05 L513.60,250.79 L514.60,250.54 L515.60,250.28 L516.60,250.03 L517.60,249.78 L518.60,249.53 L519.60,249.29 L520.60,249.04 L521.60,248.79 L522.60,248.55 L523.60,248.31 L524.60,248.07 L525.60,247.83 L526.60,247.59 L527.60,247.35 L528.60,247.12 L529.60,246.88 L530.60,246.65 L531.60,246.42 L532.60,246.19 L533.60,245.96 L534.60,245.73 L535.60,245.50 L536.60,245.27 L537.60,245.05 L538.60,244.82 L539.60,244.60 L540.60,244.38 L541.60,244.16 L542.60,243.94 L543.60,243.72 L544.60,243.50 L545.60,243.29 L546.60,243.07 L547.60,242.86 L548.60,242.64 L549.60,242.43 L550.60,242.22 L551.60,242.01 L552.60,241.80 L553.60,241.59 L554.60,241.38 L555.60,241.18 L556.60,240.97 L557.60,240.76 L558.60,240.56 L559.60,240.36 L560.60,240.15 L561.60,239.95 L562.60,239.75 L563.60,239.55 L564.60,239.35 L565.60,239.15 L566.60,238.96 L567.60,238.76 L568.60,238.56 L569.60,238.37 L570.60,238.17 L571.60,237.98 L572.60,237.79 L573.60,237.59 L574.60,237.40 L575.60,237.21 L576.60,237.02 L577.60,236.83 L578.60,236.64 L579.60,236.45 L580.60,236.27 L581.60,236.08 L582.60,235.89 L583.60,235.70 L584.60,235.52 L585.60,235.33 L586.60,235.15 L587.60,234.97 L588.60,234.78 L589.60,234.60 L590.60,234.42 L591.60,234.23 L592.60,234.05 L593.60,233.87 L594.60,233.69 L595.60,233.51 L596.60,233.33 L597.60,233.15 L598.60,232.97 L599.60,232.79 L600.60,232.61 L601.60,232.44 L602.60,232.26 L603.60,232.08 L604.60,231.90 L605.60,231.73 L606.60,231.55 L607.60,231.38 L608.60,231.20 L609.60,231.02 L610.60,230.85 L611.60,230.67 L612.60,230.50 L613.60,230.32 L614.60,230.15 L615.60,229.97 L616.60,229.80 L617.60,229.63 L618.60,229.45 L619.60,229.28 L620.60,229.11 L621.60,228.93 L622.60,228.76 L623.60,228.58 L624.60,228.41 L625.60,228.24 L626.60,228.07 L627.60,227.89 L628.60,227.72 L629.60,227.55 L630.60,227.37 L631.60,227.20 L632.60,227.03 L633.60,226.85 L634.60,226.68 L635.60,226.51 L636.60,226.33 L637.60,226.16 L638.60,225.99 L639.60,225.81 L640.60,225.64 L641.60,225.47 L642.60,225.29 L643.60,225.12 L644.60,224.94 L645.60,224.77 L646.60,224.59 L647.60,224.42 L648.60,224.24 L649.60,224.07 L650.60,223.89 L651.60,223.72 L652.60,223.54 L653.60,223.36 L654.60,223.19 L655.60,223.01 L656.60,222.83 L657.60,222.65 L658.60,222.48 L659.60,222.30 L660.60,222.12 L661.60,221.94 L662.60,221.76 L663.60,221.58 L664.60,221.40 L665.60,221.22 L666.60,221.04 L667.60,220.86 L668.60,220.67 L669.60,220.49 L670.60,220.31 L671.60,220.12 L672.60,219.94 L673.60,219.76 L674.60,219.57 L675.60,219.38 L676.60,219.20 L677.60,219.01 L678.60,218.82 L679.60,218.64 L680.60,218.45 L681.60,218.26 L682.60,218.07 L683.60,217.88 L684.60,217.69 L685.60,217.49 L686.60,217.30 L687.60,217.11 L688.60,216.91 L689.60,216.72 L690.60,216.52 L691.60,216.33 L692.60,216.13 L693.60,215.93 L694.60,215.73 L695.60,215.53 L696.60,215.33 L697.60,215.13 L698.60,214.93 L699.60,214.73 L700.60,214.52 L701.60,214.32 L702.60,214.12 L703.60,213.91 L704.60,213.70 L705.60,213.49 L706.60,213.29 L707.60,213.08 L708.60,212.86 L709.60,212.65 L710.60,212.44 L711.60,212.23 L712.60,212.01 L713.60,211.80 L714.60,211.58 L715.60,211.36 L716.60,211.14 L717.60,210.92 L718.60,210.70 L719.60,210.48 L720.60,210.26 L721.60,210.03 L722.60,209.81 L723.60,209.58 L724.60,209.35 L725.60,209.12 L726.60,208.89 L727.60,208.66 L728.60,208.43 L729.60,208.20 L730.60,207.96 L731.60,207.73 L732.60,207.49 L733.60,207.25 L733.70,207.23" fill="none" stroke="#000" stroke-width="2.0" stroke-linejoin="round" stroke-linecap="round" clip-path="url(#c2)"/>
<text x="559.40" y="106.10" font-size="8.3" transform="rotate(-4 559.40 106.10)">T<tspan font-size="4.57" dy="3.8" dx="0.0">a</tspan><tspan dy="-3.8" dx="0.6">=</tspan><tspan dx="1.0">100</tspan><tspan font-size="7.20" dx="0.8">℃</tspan></text>
<text x="566.20" y="174.60" font-size="8.3" transform="rotate(-4 566.20 174.60)">T<tspan font-size="4.57" dy="3.8" dx="0.0">a</tspan><tspan dy="-3.8" dx="0.6">=</tspan><tspan dx="0.6">75</tspan><tspan font-size="7.20" dx="0.8">℃</tspan></text>
<text x="574.80" y="258.20" font-size="8.3" transform="rotate(-7 574.80 258.20)">T<tspan font-size="4.57" dy="3.8" dx="0.0">a</tspan><tspan dy="-3.8" dx="0.6">=</tspan><tspan dx="0.6">25</tspan><tspan font-size="7.20" dx="0.8">℃</tspan></text>
<text x="454.20" y="309.30" font-size="7.1" text-anchor="end">0.01</text>
<text x="454.20" y="261.30" font-size="7.1" text-anchor="end">0.1</text>
<text x="454.20" y="213.30" font-size="7.1" text-anchor="end">1</text>
<text x="454.20" y="165.30" font-size="7.1" text-anchor="end">10</text>
<text x="454.20" y="117.30" font-size="7.1" text-anchor="end">100</text>
<text x="454.20" y="69.30" font-size="7.1" text-anchor="end">1000</text>
<text x="460.50" y="316.90" font-size="7.1" text-anchor="middle">0.1</text>
<text x="504.20" y="316.90" font-size="7.1" text-anchor="middle">5</text>
<text x="550.10" y="316.90" font-size="7.1" text-anchor="middle">10</text>
<text x="596.00" y="316.90" font-size="7.1" text-anchor="middle">15</text>
<text x="641.90" y="316.90" font-size="7.1" text-anchor="middle">20</text>
<text x="687.80" y="316.90" font-size="7.1" text-anchor="middle">25</text>
<text x="733.70" y="316.90" font-size="7.1" text-anchor="middle">30</text>
<text x="528.70" y="55.00" font-size="10.6" font-weight="bold" textLength="40.80" lengthAdjust="spacingAndGlyphs">Reverse</text>
<text x="582.20" y="55.00" font-size="10.6" font-weight="bold" textLength="77.10" lengthAdjust="spacingAndGlyphs">Characteristics</text>
<text x="533.30" y="338.70" font-size="8.6" textLength="84.80" lengthAdjust="spacingAndGlyphs">REVERSE VOLTAGE</text>
<text x="627.40" y="338.70" font-size="8.6">V</text>
<text x="633.00" y="342.00" font-size="4.6">R</text>
<text x="646.60" y="338.70" font-size="8.6" textLength="11.80" lengthAdjust="spacingAndGlyphs">(V)</text>
<g transform="translate(421.1 0) rotate(-90)">
<text x="-243.30" y="0.00" font-size="8.6" textLength="85.30" lengthAdjust="spacingAndGlyphs">REVERSE CURRENT</text>
<text x="-149.90" y="0.00" font-size="8.6">I</text>
<text x="-147.20" y="2.80" font-size="4.6">R</text>
<text x="-134.80" y="0.00" font-size="8.6" textLength="16.80" lengthAdjust="spacingAndGlyphs">(uA)</text>
</g>
<line x1="117.79" y1="426.80" x2="117.79" y2="667.00" stroke="#5a5a5a" stroke-width="1.2" stroke-dasharray="1.1 2.12"/>
<line x1="157.16" y1="426.80" x2="157.16" y2="667.00" stroke="#5a5a5a" stroke-width="1.2" stroke-dasharray="1.1 2.12"/>
<line x1="196.53" y1="426.80" x2="196.53" y2="667.00" stroke="#5a5a5a" stroke-width="1.2" stroke-dasharray="1.1 2.12"/>
<line x1="235.90" y1="426.80" x2="235.90" y2="667.00" stroke="#5a5a5a" stroke-width="1.2" stroke-dasharray="1.1 2.12"/>
<line x1="275.27" y1="426.80" x2="275.27" y2="667.00" stroke="#5a5a5a" stroke-width="1.2" stroke-dasharray="1.1 2.12"/>
<line x1="314.64" y1="426.80" x2="314.64" y2="667.00" stroke="#5a5a5a" stroke-width="1.2" stroke-dasharray="1.1 2.12"/>
<line x1="354.01" y1="426.80" x2="354.01" y2="667.00" stroke="#5a5a5a" stroke-width="1.2" stroke-dasharray="1.1 2.12"/>
<line x1="98.10" y1="642.98" x2="373.70" y2="642.98" stroke="#5a5a5a" stroke-width="1.2" stroke-dasharray="1.1 2.12"/>
<line x1="98.10" y1="594.94" x2="373.70" y2="594.94" stroke="#5a5a5a" stroke-width="1.2" stroke-dasharray="1.1 2.12"/>
<line x1="98.10" y1="546.90" x2="373.70" y2="546.90" stroke="#5a5a5a" stroke-width="1.2" stroke-dasharray="1.1 2.12"/>
<line x1="98.10" y1="498.86" x2="373.70" y2="498.86" stroke="#5a5a5a" stroke-width="1.2" stroke-dasharray="1.1 2.12"/>
<line x1="98.10" y1="450.82" x2="373.70" y2="450.82" stroke="#5a5a5a" stroke-width="1.2" stroke-dasharray="1.1 2.12"/>
<line x1="137.47" y1="426.80" x2="137.47" y2="667.00" stroke="#3c3c3c" stroke-width="1.3"/>
<line x1="176.84" y1="426.80" x2="176.84" y2="667.00" stroke="#3c3c3c" stroke-width="1.3"/>
<line x1="216.21" y1="426.80" x2="216.21" y2="667.00" stroke="#3c3c3c" stroke-width="1.3"/>
<line x1="255.59" y1="426.80" x2="255.59" y2="667.00" stroke="#3c3c3c" stroke-width="1.3"/>
<line x1="294.96" y1="426.80" x2="294.96" y2="667.00" stroke="#3c3c3c" stroke-width="1.3"/>
<line x1="334.33" y1="426.80" x2="334.33" y2="667.00" stroke="#3c3c3c" stroke-width="1.3"/>
<line x1="98.10" y1="618.96" x2="373.70" y2="618.96" stroke="#3c3c3c" stroke-width="1.3"/>
<line x1="98.10" y1="570.92" x2="373.70" y2="570.92" stroke="#3c3c3c" stroke-width="1.3"/>
<line x1="98.10" y1="522.88" x2="373.70" y2="522.88" stroke="#3c3c3c" stroke-width="1.3"/>
<line x1="98.10" y1="474.84" x2="373.70" y2="474.84" stroke="#3c3c3c" stroke-width="1.3"/>
<rect x="98.1" y="426.8" width="275.6" height="240.2" fill="none" stroke="#3a3a3a" stroke-width="1.4"/>
<path d="M98.10,474.38 L98.49,479.16 L98.89,483.66 L99.28,487.90 L99.67,491.92 L100.07,495.73 L100.46,499.34 L100.86,502.78 L101.25,506.04 L101.64,509.16 L102.04,512.13 L102.43,514.97 L102.82,517.68 L103.22,520.28 L103.61,522.77 L104.01,525.16 L104.40,527.45 L104.79,529.66 L105.19,531.78 L105.58,533.82 L105.97,535.78 L106.37,537.68 L106.76,539.51 L107.16,541.27 L107.55,542.98 L107.94,544.62 L108.34,546.22 L108.73,547.76 L109.12,549.26 L109.52,550.71 L109.91,552.11 L110.31,553.47 L110.70,554.79 L111.09,556.08 L111.49,557.32 L111.88,558.53 L112.27,559.71 L112.67,560.86 L113.06,561.97 L113.45,563.06 L113.85,564.12 L114.64,566.15 L116.81,571.27 L118.99,575.76 L121.17,579.74 L123.34,583.29 L125.52,586.48 L127.70,589.36 L129.88,591.98 L132.05,594.37 L134.23,596.56 L136.41,598.58 L138.58,600.44 L140.76,602.17 L142.94,603.77 L145.11,605.27 L147.29,606.67 L149.47,607.98 L151.65,609.21 L153.82,610.36 L156.00,611.46 L158.18,612.49 L160.35,613.46 L162.53,614.39 L164.71,615.27 L166.88,616.10 L169.06,616.90 L171.24,617.65 L173.42,618.38 L175.59,619.07 L177.77,619.73 L179.95,620.36 L182.12,620.97 L184.30,621.55 L186.48,622.11 L188.65,622.64 L190.83,623.16 L193.01,623.66 L195.19,624.14 L197.36,624.60 L199.54,625.05 L201.72,625.48 L203.89,625.89 L206.07,626.29 L208.25,626.68 L210.42,627.06 L212.60,627.42 L214.78,627.78 L216.96,628.12 L219.13,628.45 L221.31,628.78 L223.49,629.09 L225.66,629.39 L227.84,629.69 L230.02,629.98 L232.19,630.26 L234.37,630.53 L236.55,630.79 L238.73,631.05 L240.90,631.30 L243.08,631.55 L245.26,631.79 L247.43,632.02 L249.61,632.25 L251.79,632.47 L253.96,632.69 L256.14,632.90 L258.32,633.11 L260.50,633.31 L262.67,633.51 L264.85,633.70 L267.03,633.89 L269.20,634.07 L271.38,634.25 L273.56,634.43 L275.73,634.60 L277.91,634.77 L280.09,634.94 L282.27,635.10 L284.44,635.26 L286.62,635.42 L288.80,635.57 L290.97,635.72 L293.15,635.87 L295.33,636.01 L297.50,636.16 L299.68,636.30 L301.86,636.43 L304.04,636.57 L306.21,636.70 L308.39,636.83 L310.57,636.96 L312.74,637.08 L314.92,637.20 L317.10,637.32 L319.27,637.44 L321.45,637.56 L323.63,637.67 L325.81,637.79 L327.98,637.90 L330.16,638.01 L332.34,638.11 L334.51,638.22 L336.69,638.32 L338.87,638.43 L341.04,638.53 L343.22,638.63 L345.40,638.72 L347.58,638.82 L349.75,638.92 L351.93,639.01 L354.11,639.10 L356.28,639.19 L358.46,639.28 L360.64,639.37 L362.81,639.46 L364.99,639.54 L367.17,639.63 L369.35,639.71 L371.52,639.79 L373.70,639.87" fill="none" stroke="#000" stroke-width="2.0" stroke-linejoin="round" stroke-linecap="round" clip-path="url(#c3)"/>
<rect x="324.00" y="431.00" width="39.00" height="29.00" fill="#fff"/>
<text x="328.3" y="442.0" font-size="8.7">T<tspan font-size="4.8" dy="3.0" dx="0.2">a</tspan><tspan dy="-3.0" dx="0.1">=25</tspan><tspan font-size="7.2" dx="0.6">℃</tspan></text>
<text x="328.10" y="455.00" font-size="8.6">f=1MHz</text>
<text x="93.80" y="669.30" font-size="7.1" text-anchor="end">0</text>
<text x="93.80" y="621.26" font-size="7.1" text-anchor="end">5</text>
<text x="93.80" y="573.22" font-size="7.1" text-anchor="end">10</text>
<text x="93.80" y="525.18" font-size="7.1" text-anchor="end">15</text>
<text x="93.80" y="477.14" font-size="7.1" text-anchor="end">20</text>
<text x="93.80" y="429.10" font-size="7.1" text-anchor="end">25</text>
<text x="98.10" y="676.80" font-size="7.1" text-anchor="middle">0</text>
<text x="137.47" y="676.80" font-size="7.1" text-anchor="middle">5</text>
<text x="176.84" y="676.80" font-size="7.1" text-anchor="middle">10</text>
<text x="216.21" y="676.80" font-size="7.1" text-anchor="middle">15</text>
<text x="255.59" y="676.80" font-size="7.1" text-anchor="middle">20</text>
<text x="294.96" y="676.80" font-size="7.1" text-anchor="middle">25</text>
<text x="334.33" y="676.80" font-size="7.1" text-anchor="middle">30</text>
<text x="373.70" y="676.80" font-size="7.1" text-anchor="middle">35</text>
<text x="154.70" y="411.00" font-size="10.6" font-weight="bold" textLength="143.90" lengthAdjust="spacingAndGlyphs">Capacitance Characteristics</text>
<text x="173.70" y="701.70" font-size="8.6" textLength="84.40" lengthAdjust="spacingAndGlyphs">REVERSE VOLTAGE</text>
<text x="267.70" y="701.70" font-size="8.6">V</text>
<text x="273.10" y="705.00" font-size="4.6">R</text>
<text x="286.60" y="701.70" font-size="8.6" textLength="11.80" lengthAdjust="spacingAndGlyphs">(V)</text>
<g transform="translate(63.5 0) rotate(-90)">
<text x="-632.20" y="0.00" font-size="8.6" textLength="157.30" lengthAdjust="spacingAndGlyphs">CAPACITANCE BETWEEN TERMINALS</text>
</g>
<g transform="translate(76.1 0) rotate(-90)">
<text x="-571.70" y="0.00" font-size="8.6">C</text>
<text x="-565.40" y="2.80" font-size="4.6">T</text>
<text x="-554.30" y="0.00" font-size="8.6" textLength="17.90" lengthAdjust="spacingAndGlyphs">(pF)</text>
</g>
<line x1="513.75" y1="427.00" x2="513.75" y2="667.00" stroke="#3c3c3c" stroke-width="1.3"/>
<line x1="568.75" y1="427.00" x2="568.75" y2="667.00" stroke="#3c3c3c" stroke-width="1.3"/>
<line x1="623.75" y1="427.00" x2="623.75" y2="667.00" stroke="#3c3c3c" stroke-width="1.3"/>
<line x1="678.75" y1="427.00" x2="678.75" y2="667.00" stroke="#3c3c3c" stroke-width="1.3"/>
<line x1="458.75" y1="619.00" x2="733.75" y2="619.00" stroke="#3c3c3c" stroke-width="1.3"/>
<line x1="458.75" y1="571.00" x2="733.75" y2="571.00" stroke="#3c3c3c" stroke-width="1.3"/>
<line x1="458.75" y1="523.00" x2="733.75" y2="523.00" stroke="#3c3c3c" stroke-width="1.3"/>
<line x1="458.75" y1="475.00" x2="733.75" y2="475.00" stroke="#3c3c3c" stroke-width="1.3"/>
<rect x="458.75" y="427.0" width="275.0" height="240.0" fill="none" stroke="#3a3a3a" stroke-width="1.4"/>
<path d="M458.75,475.00 L513.75,475.00 L733.75,667.00" fill="none" stroke="#000" stroke-width="2"/>
<text x="454.30" y="669.30" font-size="7.1" text-anchor="end">0</text>
<text x="454.30" y="621.30" font-size="7.1" text-anchor="end">25</text>
<text x="454.30" y="573.30" font-size="7.1" text-anchor="end">50</text>
<text x="454.30" y="525.30" font-size="7.1" text-anchor="end">75</text>
<text x="454.30" y="477.30" font-size="7.1" text-anchor="end">100</text>
<text x="454.30" y="429.30" font-size="7.1" text-anchor="end">125</text>
<text x="458.75" y="676.80" font-size="7.1" text-anchor="middle">0</text>
<text x="513.75" y="676.80" font-size="7.1" text-anchor="middle">25</text>
<text x="568.75" y="676.80" font-size="7.1" text-anchor="middle">50</text>
<text x="623.75" y="676.80" font-size="7.1" text-anchor="middle">75</text>
<text x="678.75" y="676.80" font-size="7.1" text-anchor="middle">100</text>
<text x="733.75" y="676.80" font-size="7.1" text-anchor="middle">125</text>
<text x="542.50" y="411.30" font-size="10.6" font-weight="bold" textLength="111.20" lengthAdjust="spacingAndGlyphs">Power Derating Curve</text>
<text x="528.20" y="702.50" font-size="8.6" textLength="106.50" lengthAdjust="spacingAndGlyphs">AMBIENT TEMPERATURE</text>
<text x="644.30" y="702.50" font-size="8.6">T</text>
<text x="649.40" y="705.80" font-size="4.6">a</text>
<text x="661.7" y="702.5" font-size="8.6">(<tspan font-size="7.6" dx="0.6">℃</tspan><tspan dx="0.4">)</tspan></text>
<g transform="translate(423.4 0) rotate(-90)">
<text x="-619.10" y="0.00" font-size="8.6" textLength="89.80" lengthAdjust="spacingAndGlyphs">POWER DISSIPATION</text>
<text x="-520.30" y="0.00" font-size="8.6">P</text>
<text x="-514.40" y="2.80" font-size="4.6">D</text>
<text x="-501.00" y="0.00" font-size="8.6" textLength="21.40" lengthAdjust="spacingAndGlyphs">(mW)</text>
</g>
</g>
</svg>
</body></html>
